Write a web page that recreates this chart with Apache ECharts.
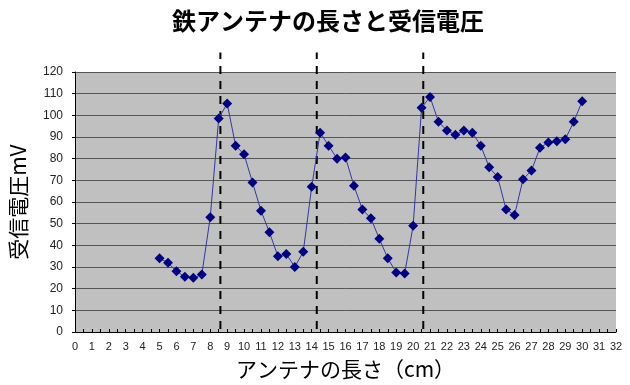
<!DOCTYPE html>
<html>
<head>
<meta charset="utf-8">
<script src="https://cdn.jsdelivr.net/npm/echarts@6/dist/echarts.min.js"></script>
<style>
  html, body { margin: 0; padding: 0; background: #ffffff; }
  #chart { width: 630px; height: 385px; }
</style>
</head>
<body>
<div id="chart"></div>
<script>
// Antenna length (cm), measured every 0.5 cm
const lengths = [
  5, 5.5, 6, 6.5, 7, 7.5, 8, 8.5, 9, 9.5,
  10, 10.5, 11, 11.5, 12, 12.5, 13, 13.5, 14, 14.5,
  15, 15.5, 16, 16.5, 17, 17.5, 18, 18.5, 19, 19.5,
  20, 20.5, 21, 21.5, 22, 22.5, 23, 23.5, 24, 24.5,
  25, 25.5, 26, 26.5, 27, 27.5, 28, 28.5, 29, 29.5, 30
];
// Received voltage (mV)
const voltages = [
  34, 32, 28, 25.5, 25, 26.5, 53, 98.5, 105.5, 86,
  82, 69, 56, 46, 35, 36, 30, 37, 67, 92,
  86, 80, 80.5, 67.5, 56.5, 52.5, 43, 34, 27.5, 27,
  49, 103.5, 108.5, 97, 93, 91, 93, 92, 86, 76,
  71.5, 56.5, 54, 70.5, 74.5, 85, 87.5, 88, 89, 97, 106.5
];
// Resonance markers (cm) and the voltage level the dashed guides reach up to
const resonanceLengths = [8.6, 14.3, 20.6];
const guideTop = 129;

const chart = echarts.init(document.getElementById('chart'), null, { renderer: 'canvas' });

const points = lengths.map((x, i) => [x, voltages[i]]);

const option = {
  backgroundColor: '#ffffff',
  animation: false,
  title: {
    text: '鉄アンテナの長さと受信電圧',
    left: 323,
    top: 4,
    textAlign: 'center',
    textStyle: {
      fontFamily: '"Noto Sans CJK JP", sans-serif',
      fontWeight: 'bold',
      fontSize: 24,
      color: '#000000'
    }
  },
  grid: {
    left: 75,
    right: 14,
    top: 72,
    bottom: 49,
    show: true,
    backgroundColor: '#c0c0c0',
    borderWidth: 0
  },
  xAxis: {
    type: 'value',
    min: 0,
    max: 32,
    interval: 1,
    name: 'アンテナの長さ（cm）',
    nameLocation: 'middle',
    nameGap: 27,
    nameTextStyle: {
      fontFamily: '"Noto Sans CJK JP", sans-serif',
      fontSize: 21,
      color: '#000000'
    },
    axisLine: { show: true, onZero: false, lineStyle: { color: '#000000', width: 1 } },
    axisTick: { show: true, inside: true, length: 3, lineStyle: { color: '#000000' } },
    minorTick: { show: true, splitNumber: 2, length: 3, lineStyle: { color: '#000000' } },
    splitLine: { show: false },
    axisLabel: {
      margin: 9,
      fontFamily: '"Liberation Sans", Arial, sans-serif',
      fontSize: 11,
      color: '#222222'
    }
  },
  yAxis: {
    type: 'value',
    min: 0,
    max: 120,
    interval: 10,
    name: '受信電圧mV',
    nameLocation: 'middle',
    nameRotate: 90,
    nameGap: 46,
    nameTextStyle: {
      fontFamily: '"Noto Sans CJK JP", sans-serif',
      fontSize: 21,
      color: '#000000'
    },
    axisLine: { show: true, lineStyle: { color: '#000000', width: 1 } },
    axisTick: { show: true, length: 3, lineStyle: { color: '#000000' } },
    splitLine: { show: true, lineStyle: { color: '#555555', width: 1 } },
    axisLabel: {
      margin: 12,
      fontFamily: '"Liberation Sans", Arial, sans-serif',
      fontSize: 12,
      color: '#222222'
    }
  },
  series: [
    {
      // dashed vertical guides at the resonance lengths, reaching above the plot
      type: 'custom',
      clip: false,
      silent: true,
      z: 3,
      data: resonanceLengths.map(x => [x]),
      renderItem: function (params, api) {
        const x = api.value(0);
        const p0 = api.coord([x, 0]);
        const p1 = api.coord([x, guideTop]);
        return {
          type: 'line',
          shape: { x1: p0[0], y1: p0[1] - 3, x2: p1[0], y2: p1[1] },
          style: { stroke: '#000000', lineWidth: 2, lineDash: [8, 7] }
        };
      }
    },
    {
      type: 'line',
      z: 4,
      data: points,
      symbol: 'diamond',
      symbolSize: 10,
      itemStyle: { color: '#000080' },
      lineStyle: { color: '#3535a5', width: 1 }
    }
  ]
};

chart.setOption(option);
</script>
</body>
</html>
